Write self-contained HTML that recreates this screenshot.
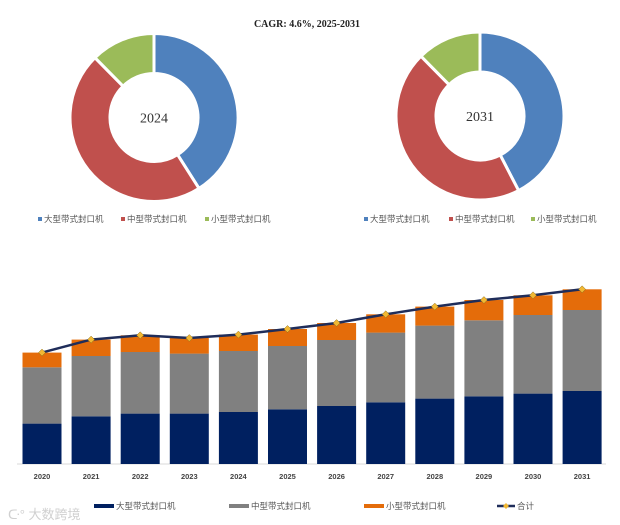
<!DOCTYPE html>
<html><head><meta charset="utf-8">
<style>
body{margin:0;background:#fff;}
svg{display:block;font-family:"Liberation Sans","Noto Sans CJK SC",sans-serif;}
</style></head>
<body>
<svg id="chart" width="620" height="525" viewBox="0 0 620 525">
  <text x="307" y="27" text-anchor="middle" font-family="Liberation Serif, serif" font-size="10" font-weight="bold" fill="#222">CAGR: 4.6%, 2025-2031</text>
  <g id="donuts"></g>
  <g id="bars"></g>
  <g id="legend"></g>
  <text x="8" y="519" font-size="13" fill="#d0d0d0" font-family="Liberation Sans, Noto Sans CJK SC, sans-serif">ᑢ° 大数跨境</text>
</svg>
<script>
const years = ["2020","2021","2022","2023","2024","2025","2026","2027","2028","2029","2030","2031"];
const largeVals = [40.4,47.7,50.4,50.4,52,54.7,58,61.7,65.4,67.7,70.4,73];
const mediumVals = [56.3,60.3,61.6,60,61,63.3,66,69.7,73,76,78.6,81];
const smallVals = [14.7,16.4,16.7,15.6,16.4,17,17,18.3,19,20.3,19.7,20.7];
const seriesNames = ["大型带式封口机","中型带式封口机","小型带式封口机"];
const donut2024 = [41,46.6,12.4];
const donut2031 = [42.4,45.2,12.4];

const NS="http://www.w3.org/2000/svg";
function mk(tag,attrs,parent){const e=document.createElementNS(NS,tag);for(const k in attrs)e.setAttribute(k,attrs[k]);parent.appendChild(e);return e;}
const pieColors=["#4F81BD","#C0504D","#9BBB59"];
const barColors=["#002060","#808080","#E46C0A"];

// donuts
const dg=document.getElementById('donuts');
function donut(vals,cx,cy,R,r,label){
  const tot=vals.reduce((a,b)=>a+b,0);let a0=0;
  vals.forEach((v,i)=>{
    const a1=a0+v/tot*2*Math.PI;
    const p=(a,rad)=>[cx+rad*Math.sin(a),cy-rad*Math.cos(a)];
    const big=(a1-a0)>Math.PI?1:0;
    const [x1,y1]=p(a0,R),[x2,y2]=p(a1,R),[x3,y3]=p(a1,r),[x4,y4]=p(a0,r);
    const path=mk('path',{d:`M${x1},${y1}A${R},${R} 0 ${big} 1 ${x2},${y2}L${x3},${y3}A${r},${r} 0 ${big} 0 ${x4},${y4}Z`,fill:pieColors[i],stroke:"#fff","stroke-width":3},dg);
    
    
    a0=a1;
  });
  const t=mk('text',{x:cx,y:cy+5,'text-anchor':'middle','font-family':'Liberation Serif, serif','font-size':14,fill:'#333'},dg);
  t.textContent=label;
  
  
}
donut(donut2024,154,117.5,84,44,"2024");
donut(donut2031,480,116,84,44,"2031");
function pieLegend(xs,y,tag){
  xs.forEach((x,i)=>{
    mk('rect',{x:x,y:y-4,width:4,height:4,fill:pieColors[i]},dg);
    const t=mk('text',{x:x+6,y:y+1,'font-size':8.5,fill:'#555'},dg);
    t.textContent=seriesNames[i];
    
    
  });
}
pieLegend([38,121,205],221,"2024");
pieLegend([364,449,531],221,"2031");

// bars
const bg=document.getElementById('bars');
const baseY=464, x0=42, pitch=49.1, bw=39;
const xPos=i=>x0+i*pitch;
const yPos=v=>baseY-v;
mk('line',{x1:17,y1:baseY,x2:606,y2:baseY,stroke:"#d9d9d9","stroke-width":1},bg);
const totals=years.map((_,i)=>largeVals[i]+mediumVals[i]+smallVals[i]);
years.forEach((yr,i)=>{
  let acc=0;
  [largeVals,mediumVals,smallVals].forEach((arr,s)=>{
    const v=arr[i];
    const r=mk('rect',{x:xPos(i)-bw/2,y:yPos(acc+v),width:bw,height:v,fill:barColors[s]},bg);
    
    
    acc+=v;
  });
  const t=mk('text',{x:xPos(i),y:479,'text-anchor':'middle','font-size':7.5,'font-weight':'bold',fill:'#444'},bg);
  t.textContent=yr;
  
  
});
const pts=totals.map((v,i)=>xPos(i)+','+yPos(v)).join(' ');
const line=mk('polyline',{points:pts,fill:'none',stroke:'#1F2D5A','stroke-width':2.5},bg);


totals.forEach((v,i)=>{
  const x=xPos(i),y=yPos(v);
  const m=mk('polygon',{points:`${x},${y-3.5} ${x+3.5},${y} ${x},${y+3.5} ${x-3.5},${y}`,fill:'#F2B833',stroke:'#8a6d1a','stroke-width':0.5},bg);
  
  
});

// bottom legend
const lg=document.getElementById('legend');
const lx=[94,229,364];
lx.forEach((x,i)=>{
  mk('rect',{x:x,y:504,width:20,height:4,fill:barColors[i]},lg);
  const t=mk('text',{x:x+22,y:509,'font-size':8.5,fill:'#555'},lg);
  t.textContent=seriesNames[i];
  
  
});
mk('line',{x1:497,y1:506,x2:515,y2:506,stroke:'#1F2D5A','stroke-width':2.5},lg);
mk('polygon',{points:"506,503 509,506 506,509 503,506",fill:'#F2B833'},lg);
const tt=mk('text',{x:517,y:509,'font-size':8.5,fill:'#555'},lg);
tt.textContent="合计";


</script>
</body></html>
